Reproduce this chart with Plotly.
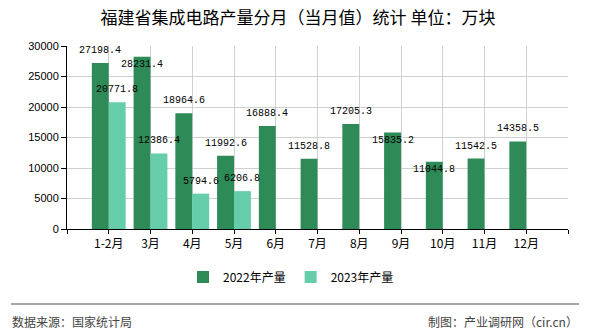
import plotly.graph_objects as go

# ---- data ----
categories = ["1-2月", "3月", "4月", "5月", "6月", "7月", "8月", "9月", "10月", "11月", "12月"]
series_2022 = [27198.4, 28231.4, 18964.6, 11992.6, 16888.4, 11528.8, 17205.3, 15835.2, 11044.8, 11542.5, 14358.5]
series_2023 = [20771.8, 12386.4, 5794.6, 6206.8, None, None, None, None, None, None, None]
series_names = ["2022年产量", "2023年产量"]
y_ticks = [0, 5000, 10000, 15000, 20000, 25000, 30000]

title_text = "福建省集成电路产量分月（当月值）统计 单位：万块"
source_text = "数据来源：国家统计局"
credit_text = "制图：产业调研网（cir.cn）"

# ---- style ----
colors = ["#2e8b57", "#66cdaa"]
bargap = 0.19
# labels moved below bar top (overlap avoidance in original)
label_below_2022 = {1, 7, 8}

positions = list(range(1, len(categories) + 1))
bar_w = (1 - bargap) / 2

fig = go.Figure()
for name, vals, col in zip(series_names, [series_2022, series_2023], colors):
    fig.add_trace(go.Bar(x=positions, y=vals, name=name, marker=dict(color=col, line=dict(width=0)),
                         hoverinfo="y"))

annotations = []
for si, vals in enumerate([series_2022, series_2023]):
    off = (-0.5 + si) * bar_w
    for i, v in enumerate(vals):
        if v is None:
            continue
        shift = -8 if (si == 0 and i in label_below_2022) else 12.5
        annotations.append(dict(x=positions[i] + off, y=v, xref="x", yref="y", text=f"{v:.1f}",
                                showarrow=False, yshift=shift, yanchor="middle", xanchor="center",
                                font=dict(family="Liberation Mono, DejaVu Sans Mono, monospace", size=10, color="#000")))

# paper-coordinate helpers
L, R, T, B = 67, 22, 46, 101
pw, ph = 590 - L - R, 330 - T - B
def px_x(px):
    return (px - L) / pw
def px_y(py):
    return (330 - B - py) / ph

annotations.append(dict(x=px_x(11), y=px_y(321), xref="paper", yref="paper", text=source_text,
                        showarrow=False, xanchor="left", yanchor="middle", borderpad=0,
                        font=dict(family="Noto Sans CJK SC", size=12, color="#444")))
annotations.append(dict(x=px_x(579), y=px_y(321), xref="paper", yref="paper", text=credit_text,
                        showarrow=False, xanchor="right", yanchor="middle", borderpad=0,
                        font=dict(family="Noto Sans CJK SC", size=12, color="#444")))

shapes = [dict(type="line", xref="paper", yref="paper", x0=px_x(11), x1=px_x(579), y0=px_y(304), y1=px_y(304),
               line=dict(color="#888", width=1.5))]

fig.update_layout(
    width=590, height=330,
    margin=dict(l=L, r=R, t=T, b=B, pad=0),
    paper_bgcolor="white", plot_bgcolor="white",
    barmode="group", bargap=bargap, bargroupgap=0,
    title=dict(text=title_text, x=298 / 590, xanchor="center", y=1 - 18 / 330, yanchor="middle",
               font=dict(family="Noto Sans CJK SC", size=17, color="#000")),
    xaxis=dict(range=[0, len(categories) + 1], tickmode="array", tickvals=positions, ticktext=categories,
               showgrid=True, gridcolor="#d0d0d0", gridwidth=1,
               showline=True, linecolor="#000", linewidth=1, ticks="outside", ticklen=4, tickcolor="#000",
               minor=dict(tick0=0, dtick=len(categories) + 1, ticks="outside", ticklen=4, tickcolor="#000", showgrid=False),
               tickfont=dict(family="Noto Sans CJK SC", size=12, color="#000"), zeroline=False, fixedrange=True),
    yaxis=dict(range=[0, 30000], tickmode="array", tickvals=y_ticks, ticktext=[str(t) for t in y_ticks],
               showgrid=True, gridcolor="#d0d0d0", gridwidth=1,
               showline=True, linecolor="#000", linewidth=1, ticks="outside", ticklen=5, tickcolor="#000",
               tickfont=dict(family="Liberation Sans, Arial", size=11, color="#000"), zeroline=False, fixedrange=True),
    legend=dict(orientation="h", x=px_x(291), xanchor="center", y=px_y(277), yanchor="middle",
                font=dict(family="Noto Sans CJK SC", size=12, color="#000"), itemclick=False,
                bgcolor="rgba(0,0,0,0)"),
    annotations=annotations, shapes=shapes,
)

fig.write_html("out.html")
